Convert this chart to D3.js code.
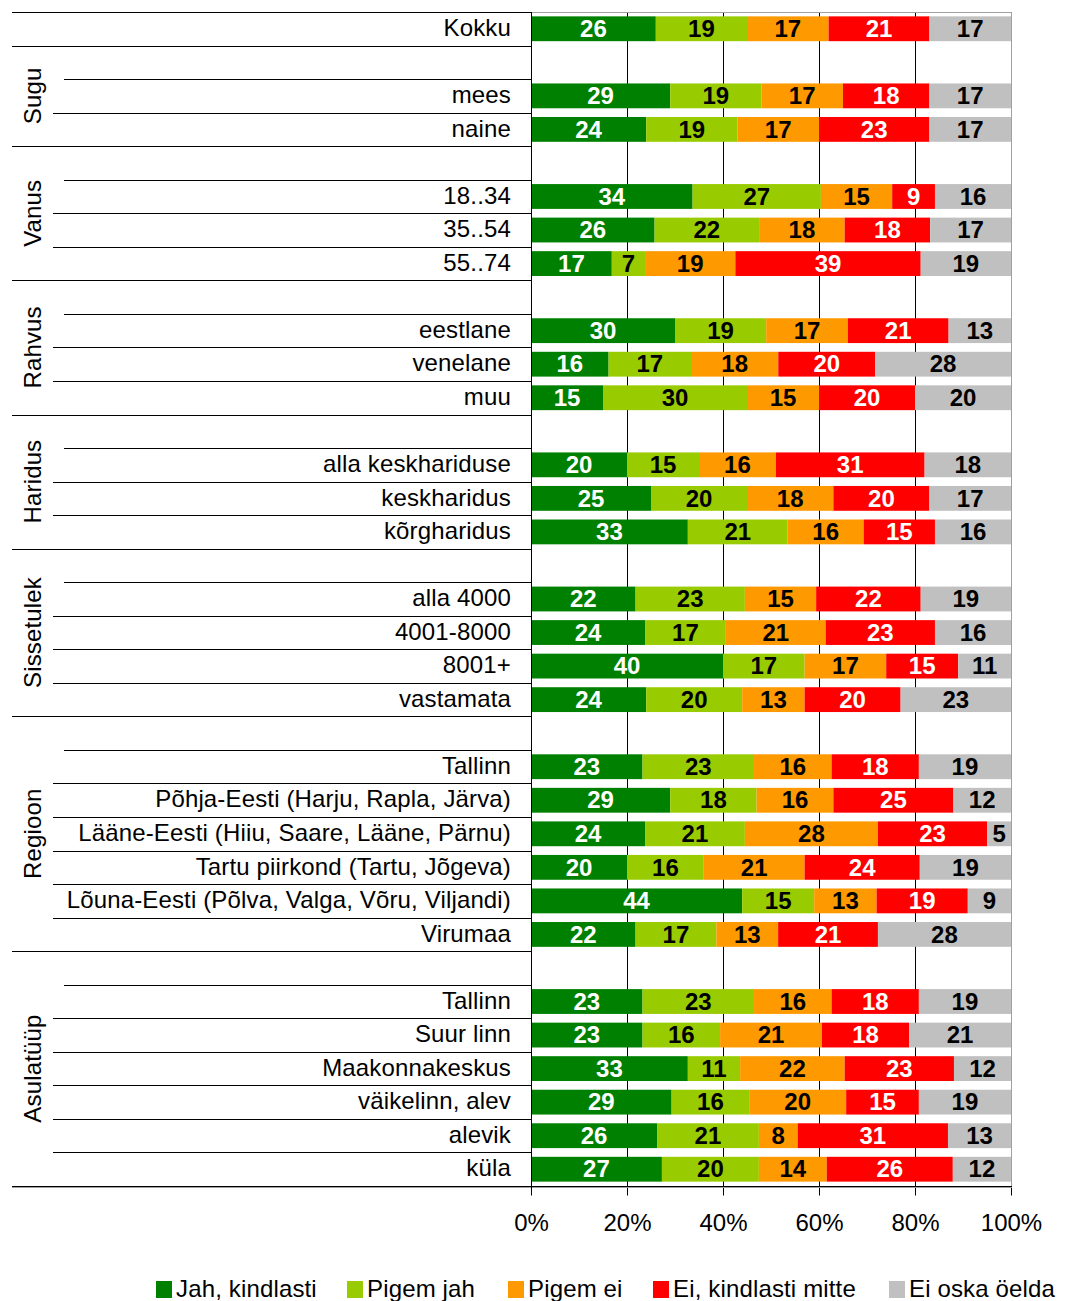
<!DOCTYPE html>
<html>
<head>
<meta charset="utf-8">
<script src="https://cdn.jsdelivr.net/npm/d3@7"></script>
<style>
  body { margin: 0; background: #fff; }
  svg { font-family: "Liberation Sans", Arial, sans-serif; }
</style>
</head>
<body>
<svg></svg>
<script>
// series (legend order)
const seriesNames = ["Jah, kindlasti", "Pigem jah", "Pigem ei", "Ei, kindlasti mitte", "Ei oska öelda"]
const colors = ["#008000", "#99cc00", "#ff9900", "#ff0000", "#c0c0c0"]
const labelColors = ["#fff", "#000", "#000", "#fff", "#000"]

// rows and the group each one belongs to
const categories = ["Kokku",
  "mees", "naine",
  "18..34", "35..54", "55..74",
  "eestlane", "venelane", "muu",
  "alla keskhariduse", "keskharidus", "kõrgharidus",
  "alla 4000", "4001-8000", "8001+", "vastamata",
  "Tallinn", "Põhja-Eesti (Harju, Rapla, Järva)", "Lääne-Eesti (Hiiu, Saare, Lääne, Pärnu)",
  "Tartu piirkond (Tartu, Jõgeva)", "Lõuna-Eesti (Põlva, Valga, Võru, Viljandi)", "Virumaa",
  "Tallinn", "Suur linn", "Maakonnakeskus", "väikelinn, alev", "alevik", "küla"]
const groups = ["",
  "Sugu", "Sugu",
  "Vanus", "Vanus", "Vanus",
  "Rahvus", "Rahvus", "Rahvus",
  "Haridus", "Haridus", "Haridus",
  "Sissetulek", "Sissetulek", "Sissetulek", "Sissetulek",
  "Regioon", "Regioon", "Regioon", "Regioon", "Regioon", "Regioon",
  "Asulatüüp", "Asulatüüp", "Asulatüüp", "Asulatüüp", "Asulatüüp", "Asulatüüp"]

const jahKindlasti = [26, 29, 24, 34, 26, 17, 30, 16, 15, 20, 25, 33, 22, 24, 40, 24, 23, 29, 24, 20, 44, 22, 23, 23, 33, 29, 26, 27]
const pigemJah     = [19, 19, 19, 27, 22, 7, 19, 17, 30, 15, 20, 21, 23, 17, 17, 20, 23, 18, 21, 16, 15, 17, 23, 16, 11, 16, 21, 20]
const pigemEi      = [17, 17, 17, 15, 18, 19, 17, 18, 15, 16, 18, 16, 15, 21, 17, 13, 16, 16, 28, 21, 13, 13, 16, 21, 22, 20, 8, 14]
const eiKindlasti  = [21, 18, 23, 9, 18, 39, 21, 20, 20, 31, 20, 15, 22, 23, 15, 20, 18, 25, 23, 24, 19, 21, 18, 18, 23, 15, 31, 26]
const eiOska       = [17, 17, 17, 16, 17, 19, 13, 28, 20, 18, 17, 16, 19, 16, 11, 23, 19, 12, 5, 19, 9, 28, 19, 21, 12, 19, 13, 12]

const tickValues = [0, 0.2, 0.4, 0.6, 0.8, 1]

let width = 1065
let height = 1301
let plotLeft = 531, plotRight = 1011
let plotTop = 12, plotBottom = 1186
let lineLeft = 12
let fontSize = 24
let spacing = '0.15px'

let svg = d3.select('svg').attr('width', width).attr('height', height)

// build rows: a blank header row before every group after "Kokku"
let rows = []
categories.forEach((c, i) => {
    let g = groups[i]
    if (g !== "" && g !== groups[i - 1]) rows.push({ key: 'blank' + rows.length, blank: true, group: g })
    rows.push({
        key: 'r' + rows.length, label: c, group: g, blank: false,
        v: [jahKindlasti[i], pigemJah[i], pigemEi[i], eiKindlasti[i], eiOska[i]]
    })
})

let xScale = d3.scaleLinear().domain([0, 1]).range([plotLeft, plotRight])
let yScale = d3.scaleBand().domain(rows.map(r => r.key)).range([plotTop, plotBottom])
let step = yScale.step()
let barH = step * 0.74
let barOff = (step - barH) / 2

// stacked, normalised to 100%
let dataRows = rows.filter(r => !r.blank)
let tableRows = dataRows.map(r => {
    let o = { key: r.key }
    seriesNames.forEach((s, j) => o[s] = r.v[j])
    return o
})
let stacked = d3.stack().keys(seriesNames).offset(d3.stackOffsetExpand)(tableRows)

// left separator lines
let lines = []
for (let i = 0; i <= rows.length; i++) {
    let y = plotTop + step * i
    let x0 = lineLeft
    if (i > 0 && i < rows.length) {
        let prev = rows[i - 1], cur = rows[i]
        if (!cur.blank && prev.group === cur.group && cur.group !== "") {
            x0 = prev.blank ? 64 : 53
        }
    }
    lines.push({ y: y, x0: x0 })
}
svg.append('g').selectAll('line').data(lines).enter().append('line')
    .attr('x1', d => d.x0).attr('x2', plotLeft)
    .attr('y1', d => Math.round(d.y) + 0.5).attr('y2', d => Math.round(d.y) + 0.5)
    .attr('stroke', '#000').attr('stroke-width', 1)

// grid lines
svg.append('g').selectAll('line').data([0.2, 0.4, 0.6, 0.8]).enter().append('line')
    .attr('x1', d => Math.round(xScale(d)) + 0.5).attr('x2', d => Math.round(xScale(d)) + 0.5)
    .attr('y1', plotTop).attr('y2', plotBottom)
    .attr('stroke', '#000').attr('stroke-width', 1)

// plot frame top / right (gray)
svg.append('line').attr('x1', plotLeft).attr('x2', plotRight + 1)
    .attr('y1', plotTop + 0.5).attr('y2', plotTop + 0.5).attr('stroke', '#a0a0a0')
svg.append('line').attr('x1', plotRight + 0.5).attr('x2', plotRight + 0.5)
    .attr('y1', plotTop).attr('y2', plotBottom).attr('stroke', '#a0a0a0')

// bars
let layers = svg.append('g').selectAll('g').data(stacked).enter().append('g')
    .attr('fill', (d, i) => colors[i])
layers.selectAll('rect').data(d => d).enter().append('rect')
    .attr('x', d => xScale(d[0]))
    .attr('width', d => xScale(d[1]) - xScale(d[0]))
    .attr('y', d => yScale(d.data.key) + barOff)
    .attr('height', barH)

// value labels
let labelLayers = svg.append('g').selectAll('g').data(stacked).enter().append('g')
    .attr('fill', (d, i) => labelColors[i])
labelLayers.selectAll('text').data(d => d.map(p => ({ p: p, key: d.key }))).enter().append('text')
    .attr('x', d => (xScale(d.p[0]) + xScale(d.p[1])) / 2)
    .attr('y', d => yScale(d.p.data.key) + step / 2)
    .attr('dy', '0.34em')
    .attr('text-anchor', 'middle')
    .attr('font-size', fontSize)
    .attr('font-weight', 'bold')
    .text(d => d.p.data[d.key])

// category labels
svg.append('g').selectAll('text').data(dataRows).enter().append('text')
    .attr('x', 511)
    .attr('y', d => yScale(d.key) + step / 2)
    .attr('dy', '0.3em')
    .attr('text-anchor', 'end')
    .attr('font-size', fontSize)
    .attr('letter-spacing', spacing)
    .attr('fill', '#000')
    .text(d => d.label)

// group labels (rotated)
let groupNames = Array.from(new Set(groups.filter(g => g !== "")))
let groupSpans = groupNames.map(g => {
    let rs = rows.filter(r => r.group === g)
    let y0 = yScale(rs[0].key), y1 = yScale(rs[rs.length - 1].key) + step
    return { name: g, y: (y0 + y1) / 2 }
})
svg.append('g').selectAll('text').data(groupSpans).enter().append('text')
    .attr('transform', d => 'translate(32,' + d.y + ') rotate(-90)')
    .attr('dy', '0.36em')
    .attr('text-anchor', 'middle')
    .attr('font-size', fontSize)
    .attr('letter-spacing', spacing)
    .text(d => d.name)

// x axis
let xAxis = d3.axisBottom(xScale).tickValues(tickValues).tickFormat(d3.format('.0%'))
    .tickSizeInner(9).tickSizeOuter(0).tickPadding(18)
let axisG = svg.append('g')
    .attr('transform', 'translate(0,' + (plotBottom + 0.5) + ')')
    .call(xAxis)
axisG.select('.domain').remove()
axisG.selectAll('line').attr('stroke', '#000')
axisG.selectAll('text').attr('font-size', fontSize).attr('fill', '#000')
    .style('font-family', '"Liberation Sans", Arial, sans-serif')

// bottom line (dark + gray) and left axis line
svg.append('line').attr('x1', lineLeft).attr('x2', plotRight + 1)
    .attr('y1', plotBottom + 0.5).attr('y2', plotBottom + 0.5).attr('stroke', '#000')
svg.append('line').attr('x1', lineLeft).attr('x2', plotRight + 1)
    .attr('y1', plotBottom + 1.5).attr('y2', plotBottom + 1.5).attr('stroke', '#a0a0a0')
svg.append('line').attr('x1', plotLeft + 0.5).attr('x2', plotLeft + 0.5)
    .attr('y1', plotTop).attr('y2', plotBottom + 9).attr('stroke', '#000')

// legend
let legendX = [156, 347, 508, 653, 889]
let legend = svg.append('g').selectAll('g').data(seriesNames).enter().append('g')
    .attr('transform', (d, i) => 'translate(' + legendX[i] + ',1281)')
legend.append('rect').attr('width', 16).attr('height', 17).attr('fill', (d, i) => colors[i])
legend.append('text').attr('x', 20).attr('y', 8).attr('dy', '0.34em')
    .attr('font-size', fontSize).attr('letter-spacing', spacing).text(d => d)
</script>
</body>
</html>
